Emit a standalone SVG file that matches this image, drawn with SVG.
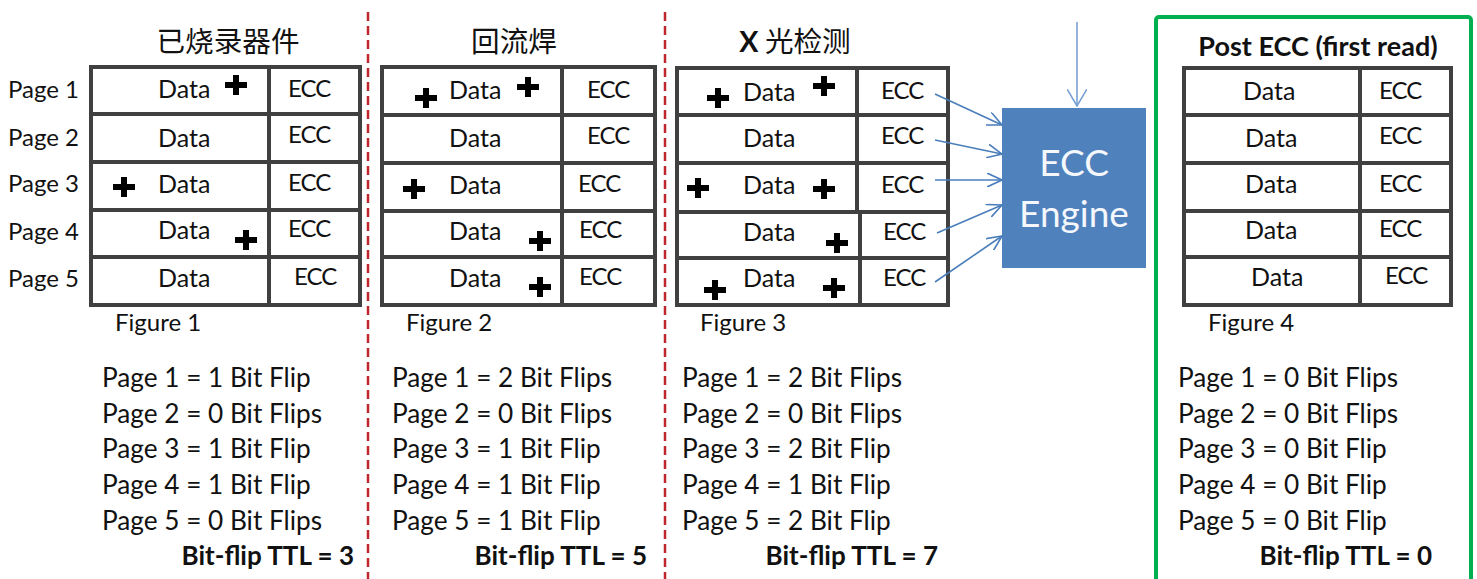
<svg xmlns="http://www.w3.org/2000/svg" width="1477" height="579" viewBox="0 0 1477 579">
<style>
text{font-family:Lato,"Liberation Sans","Noto Sans CJK SC",sans-serif;fill:#111}
.tbl{fill:#fff;stroke:#404040;stroke-width:4}
.ln{stroke:#404040;stroke-width:4}
.cell{font-size:25px}
.ecc{font-size:24px;letter-spacing:-1px}
.pg{font-size:24px}
.fig{font-size:24px}
.bt{font-size:26.2px}
.ttl{font-size:26px;font-weight:bold;text-anchor:end}
.cjk{font-family:"Noto Sans CJK SC",sans-serif;font-size:28.6px;text-anchor:middle}
.div{stroke:#c0262d;stroke-width:2.5;stroke-dasharray:9 5}
.arr{stroke:#4a7ebb;stroke-width:1.6;fill:none;marker-end:url(#ah)}
</style>
<defs>
<path id="plus" d="M-11,0 H11 M0,-10 V10" stroke="#000" stroke-width="6"/>
<marker id="ah" markerUnits="userSpaceOnUse" viewBox="0 0 16 14" markerWidth="16" markerHeight="14" refX="15" refY="7" orient="auto">
<path d="M0,0 L15,7 L0,14" fill="none" stroke="#4a7ebb" stroke-width="1.6"/>
</marker>
<marker id="ah2" markerUnits="userSpaceOnUse" viewBox="0 0 18 20" markerWidth="18" markerHeight="20" refX="17" refY="10" orient="auto">
<path d="M0,0 L17,10 L0,20" fill="none" stroke="#7aa0d4" stroke-width="1.6"/>
</marker>
</defs>
<rect width="1477" height="579" fill="#fff"/>

<g id="dividers">
<line class="div" x1="368" y1="12" x2="368" y2="579"/>
<line class="div" x1="665" y1="12" x2="665" y2="579"/>
</g>

<g id="page-labels" class="pg">
<text x="8" y="98" class="pg">Page 1</text>
<text x="8" y="146" class="pg">Page 2</text>
<text x="8" y="192" class="pg">Page 3</text>
<text x="8" y="240" class="pg">Page 4</text>
<text x="8" y="287" class="pg">Page 5</text>
</g>

<g id="fig1">
<text x="228" y="52" class="cjk">已烧录器件</text>
<rect class="tbl" x="91" y="67" width="269" height="238"/>
<line class="ln" x1="91" y1="114" x2="360" y2="114"/>
<line class="ln" x1="91" y1="162" x2="360" y2="162"/>
<line class="ln" x1="91" y1="210" x2="360" y2="210"/>
<line class="ln" x1="91" y1="257" x2="360" y2="257"/>
<line class="ln" x1="269" y1="67" x2="269" y2="305"/>
<g class="cell">
<text x="158" y="98">Data</text><text x="158" y="147">Data</text><text x="158" y="193">Data</text><text x="158" y="239">Data</text><text x="158" y="287">Data</text>
</g>
<g class="ecc">
<text x="288" y="97">ECC</text><text x="288" y="143">ECC</text><text x="288" y="191">ECC</text><text x="288" y="237">ECC</text><text x="294" y="285">ECC</text>
</g>
<use href="#plus" x="236" y="85"/><use href="#plus" x="124" y="187"/><use href="#plus" x="246" y="240"/>
<text x="115" y="331" class="fig">Figure 1</text>
<g class="bt">
<text x="102" y="387">Page 1 = 1 Bit Flip</text>
<text x="102" y="423">Page 2 = 0 Bit Flips</text>
<text x="102" y="458">Page 3 = 1 Bit Flip</text>
<text x="102" y="494">Page 4 = 1 Bit Flip</text>
<text x="102" y="530">Page 5 = 0 Bit Flips</text>
</g>
<text x="354" y="565" class="ttl">Bit-flip TTL = 3</text>
</g>

<g id="fig2">
<text x="514" y="52" class="cjk">回流焊</text>
<rect class="tbl" x="382" y="67" width="273" height="238"/>
<line class="ln" x1="382" y1="115" x2="655" y2="115"/>
<line class="ln" x1="382" y1="163" x2="655" y2="163"/>
<line class="ln" x1="382" y1="211" x2="655" y2="211"/>
<line class="ln" x1="382" y1="257" x2="655" y2="257"/>
<line class="ln" x1="562" y1="67" x2="562" y2="305"/>
<g class="cell">
<text x="449" y="99">Data</text><text x="449" y="147">Data</text><text x="449" y="194">Data</text><text x="449" y="240">Data</text><text x="449" y="287">Data</text>
</g>
<g class="ecc">
<text x="587" y="98">ECC</text><text x="587" y="144">ECC</text><text x="578" y="192">ECC</text><text x="579" y="238">ECC</text><text x="579" y="285">ECC</text>
</g>
<use href="#plus" x="426" y="98"/><use href="#plus" x="528" y="87"/><use href="#plus" x="414" y="189"/><use href="#plus" x="540" y="241"/><use href="#plus" x="540" y="287"/>
<text x="406" y="331" class="fig">Figure 2</text>
<g class="bt">
<text x="392" y="387">Page 1 = 2 Bit Flips</text>
<text x="392" y="423">Page 2 = 0 Bit Flips</text>
<text x="392" y="458">Page 3 = 1 Bit Flip</text>
<text x="392" y="494">Page 4 = 1 Bit Flip</text>
<text x="392" y="530">Page 5 = 1 Bit Flip</text>
</g>
<text x="647" y="565" class="ttl">Bit-flip TTL = 5</text>
</g>

<g id="fig3">
<text x="795" y="52" class="cjk"><tspan font-family="Lato,'Liberation Sans',sans-serif" font-weight="bold">X</tspan> 光检测</text>
<rect class="tbl" x="677" y="68" width="271" height="237"/>
<line class="ln" x1="677" y1="115" x2="948" y2="115"/>
<line class="ln" x1="677" y1="163" x2="948" y2="163"/>
<line class="ln" x1="677" y1="212" x2="948" y2="212"/>
<line class="ln" x1="677" y1="258" x2="948" y2="258"/>
<line class="ln" x1="857" y1="68" x2="857" y2="212"/>
<line class="ln" x1="860" y1="212" x2="860" y2="305"/>
<g class="cell">
<text x="743" y="101">Data</text><text x="743" y="147">Data</text><text x="743" y="194">Data</text><text x="743" y="241">Data</text><text x="743" y="287">Data</text>
</g>
<g class="ecc">
<text x="881" y="99">ECC</text><text x="881" y="144">ECC</text><text x="881" y="193">ECC</text><text x="883" y="240">ECC</text><text x="883" y="286">ECC</text>
</g>
<use href="#plus" x="718" y="98"/><use href="#plus" x="824" y="86"/><use href="#plus" x="698" y="188"/><use href="#plus" x="824" y="189"/><use href="#plus" x="837" y="243"/><use href="#plus" x="715" y="290"/><use href="#plus" x="834" y="288"/>
<text x="700" y="331" class="fig">Figure 3</text>
<g class="bt">
<text x="682" y="387">Page 1 = 2 Bit Flips</text>
<text x="682" y="423">Page 2 = 0 Bit Flips</text>
<text x="682" y="458">Page 3 = 2 Bit Flip</text>
<text x="682" y="494">Page 4 = 1 Bit Flip</text>
<text x="682" y="530">Page 5 = 2 Bit Flip</text>
</g>
<text x="938" y="565" class="ttl">Bit-flip TTL = 7</text>
</g>

<g id="ecc-engine">
<rect x="1002" y="108" width="144" height="160" fill="#4f81bd"/>
<text x="1074" y="176" text-anchor="middle" font-size="37" style="fill:#f4f7fb">ECC</text>
<text x="1074" y="227" text-anchor="middle" font-size="37" style="fill:#f4f7fb">Engine</text>
</g>

<g id="connectors">
<line class="arr" x1="935" y1="94" x2="1002" y2="125"/>
<line class="arr" x1="935" y1="140" x2="1002" y2="154"/>
<line class="arr" x1="935" y1="180" x2="1002" y2="180"/>
<line class="arr" x1="937" y1="233" x2="1002" y2="205"/>
<line class="arr" x1="935" y1="282" x2="1002" y2="236"/>
<line x1="1077" y1="22" x2="1077" y2="106" stroke="#7aa0d4" stroke-width="1.6" marker-end="url(#ah2)"/>
</g>

<g id="fig4">
<rect x="1156" y="17" width="315" height="600" rx="3" fill="none" stroke="#00b050" stroke-width="4"/>
<text x="1318" y="56" text-anchor="middle" font-size="27" font-weight="bold">Post ECC (first read)</text>
<rect class="tbl" x="1184" y="68" width="267" height="237"/>
<line class="ln" x1="1184" y1="115" x2="1451" y2="115"/>
<line class="ln" x1="1184" y1="163" x2="1451" y2="163"/>
<line class="ln" x1="1184" y1="211" x2="1451" y2="211"/>
<line class="ln" x1="1184" y1="257" x2="1451" y2="257"/>
<line class="ln" x1="1360" y1="68" x2="1360" y2="305"/>
<g class="cell">
<text x="1243" y="100">Data</text><text x="1245" y="147">Data</text><text x="1245" y="193">Data</text><text x="1245" y="239">Data</text><text x="1251" y="286">Data</text>
</g>
<g class="ecc">
<text x="1379" y="99">ECC</text><text x="1379" y="144">ECC</text><text x="1379" y="192">ECC</text><text x="1379" y="237">ECC</text><text x="1385" y="284">ECC</text>
</g>
<text x="1208" y="331" class="fig">Figure 4</text>
<g class="bt">
<text x="1178" y="387">Page 1 = 0 Bit Flips</text>
<text x="1178" y="423">Page 2 = 0 Bit Flips</text>
<text x="1178" y="458">Page 3 = 0 Bit Flip</text>
<text x="1178" y="494">Page 4 = 0 Bit Flip</text>
<text x="1178" y="530">Page 5 = 0 Bit Flip</text>
</g>
<text x="1432" y="565" class="ttl">Bit-flip TTL = 0</text>
</g>
</svg>
